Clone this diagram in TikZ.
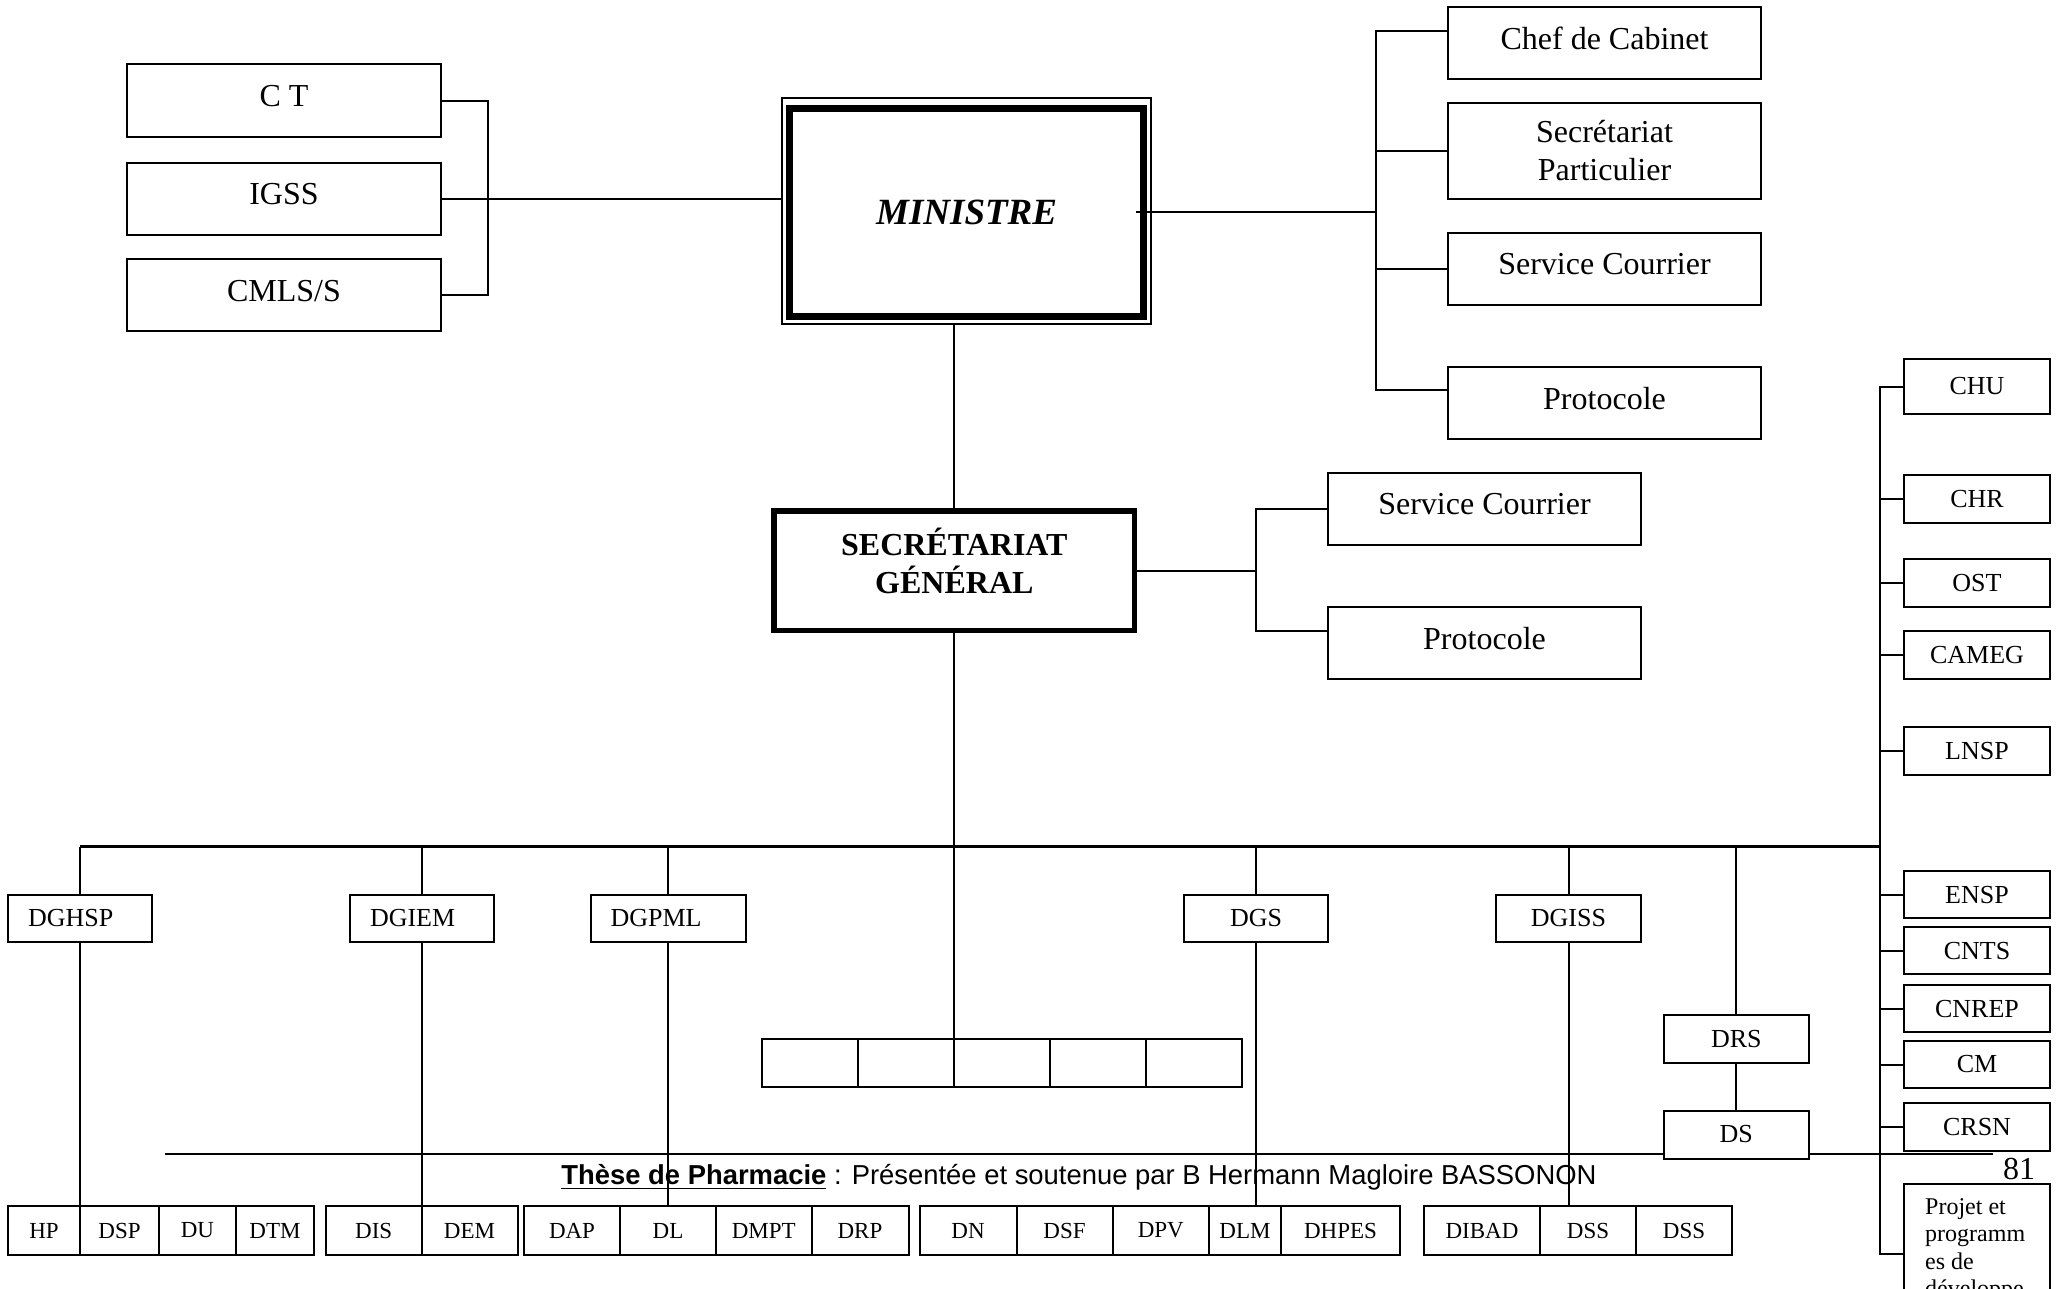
\documentclass[tikz,border=0pt]{standalone}
\usepackage{graphicx}
\usepackage{fontspec}
\setmainfont{Liberation Serif}
\newfontfamily\footfont{Liberation Sans}
\newcommand\bigfnt{\fontsize{32}{38}\selectfont}
\begin{document}
\begin{tikzpicture}[x=1pt,y=-1pt,
  box/.style={draw, line width=2pt, fill=white, inner sep=0pt, text=black},
  bigbox/.style={box, font=\bigfnt, text depth=9pt, align=center},
  smallbox/.style={box, font=\fontsize{26}{30}\selectfont},
  leftbox/.style={box, font=\fontsize{26}{30}\selectfont, align=left, inner xsep=20pt},
  cellbox/.style={box, font=\fontsize{23}{27}\selectfont, minimum height=49pt},
  emptycell/.style={box, minimum width=96pt, minimum height=48pt},
  link/.style={draw, line width=2pt},
  busline/.style={draw, line width=2.4pt},
]
\useasboundingbox (0,0) rectangle (2058,1288);
\clip (0,0) rectangle (2058,1288);

% helper coordinates
\coordinate (lbr) at (488,0);
\coordinate (rbr) at (1376,0);
\coordinate (sbr) at (1256,0);
\coordinate (busL) at (80,846.6);
\coordinate (busR) at (1880,846.6);
\coordinate (fl) at (165,1154);
\coordinate (fr) at (1993,1154);

% footer line and text
\draw[busline] (fl) -- (fr);
\node[font=\footfont, inner sep=0pt] (foot) at (1079,1177)
  {\resizebox{1035pt}{!}{\underline{\textbf{Thèse de Pharmacie}} : Présentée et soutenue par B Hermann Magloire BASSONON}};
\node[font=\fontsize{32}{36}\selectfont, inner sep=0pt] (pnum) at (2019,1169) {81};

% left group
\node[bigbox, minimum width=314pt, minimum height=73pt] (ct) at (284,100.5) {C T};
\node[bigbox, minimum width=314pt, minimum height=72pt] (igss) at (284,198.5) {IGSS};
\node[bigbox, minimum width=314pt, minimum height=72pt] (cmls) at (284,295) {CMLS/S};

% ministre
\node[box, line width=2pt, minimum width=368.5pt, minimum height=226.3pt] (mino) at (966.25,210.85) {};
\node[box, line width=7pt, minimum width=354pt, minimum height=208pt,
      font=\bfseries\itshape\fontsize{37}{44}\selectfont] (mini) at (966.6,212) {MINISTRE};

% right group
\node[bigbox, minimum width=313pt, minimum height=72pt] (chef) at (1604.5,43) {Chef de Cabinet};
\node[box, font=\bigfnt, align=center, minimum width=313pt, minimum height=96pt] (secp) at (1604.5,151) {Secrétariat\\Particulier};
\node[bigbox, minimum width=313pt, minimum height=72pt] (sc1) at (1604.5,268.5) {Service Courrier};
\node[bigbox, minimum width=313pt, minimum height=72pt] (prot1) at (1604.5,402.5) {Protocole};
\coordinate (chefc) at ([yshift=12.3pt]chef.west);
\coordinate (prot1c) at ([yshift=12.5pt]prot1.west);

% secretariat general
\node[box, line width=5.5pt, minimum width=360.7pt, minimum height=119.3pt,
      label={[font=\bfseries\bigfnt, align=center, yshift=9.6pt]center:SECRÉTARIAT\\GÉNÉRAL}] (sg) at (954.35,570.65) {};
\node[bigbox, minimum width=313pt, minimum height=72pt] (sc2) at (1484.5,508.5) {Service Courrier};
\node[bigbox, minimum width=313pt, minimum height=72pt] (prot2) at (1484.5,643) {Protocole};
\coordinate (prot2c) at ([yshift=12pt]prot2.west);

% directions generales
\node[leftbox, text width=104pt, minimum height=47pt] (dghsp) at (80,918.5) {DGHSP};
\node[leftbox, text width=103.5pt, minimum height=47pt] (dgiem) at (421.75,918.5) {DGIEM};
\node[leftbox, text width=115pt, minimum height=47pt] (dgpml) at (668,918.5) {DGPML};
\node[smallbox, minimum width=144pt, minimum height=47pt] (dgs) at (1256,918.5) {DGS};
\node[smallbox, minimum width=145pt, minimum height=47pt] (dgiss) at (1568.5,918.5) {DGISS};
\node[smallbox, minimum width=144.6pt, minimum height=48pt] (drs) at (1736.3,1039) {DRS};
\node[smallbox, minimum width=144.6pt, minimum height=48pt] (ds) at (1736.3,1134.5) {DS};

% empty row
\node[emptycell] (e1) at (810.2,1063) {};
\node[emptycell] (e2) at (906.3,1063) {};
\node[emptycell] (e3) at (1002.3,1063) {};
\node[emptycell] (e4) at (1098.3,1063) {};
\node[emptycell] (e5) at (1194.4,1063) {};

% right column
\node[smallbox, minimum width=146pt, minimum height=55pt] (chu) at (1977,386.5) {CHU};
\node[smallbox, minimum width=146pt, minimum height=48pt] (chr) at (1977,499) {CHR};
\node[smallbox, minimum width=146pt, minimum height=48pt] (ost) at (1977,583) {OST};
\node[smallbox, minimum width=146pt, minimum height=48pt] (cameg) at (1977,655) {CAMEG};
\node[smallbox, minimum width=146pt, minimum height=48pt] (lnsp) at (1977,751) {LNSP};
\node[smallbox, minimum width=146pt, minimum height=47pt] (ensp) at (1977,894.7) {ENSP};
\node[smallbox, minimum width=146pt, minimum height=47pt] (cnts) at (1977,950.7) {CNTS};
\node[smallbox, minimum width=146pt, minimum height=47pt] (cnrep) at (1977,1008.7) {CNREP};
\node[smallbox, minimum width=146pt, minimum height=47pt] (cm) at (1977,1064.5) {CM};
\node[smallbox, minimum width=146pt, minimum height=48pt] (crsn) at (1977,1126.7) {CRSN};
\node[box, minimum width=146pt, minimum height=217pt, anchor=north] (projet) at (1977,1183.3) {};
\node[font=\fontsize{24}{27.5}\selectfont, align=left, anchor=north west, inner sep=0pt] (projtxt) at (1925,1198) {Projet et\\programm\\es de\\développe};
\coordinate (pjc) at (projet.north west |- 0,1254);

% bottom row
\node[cellbox, minimum width=72pt] (hp) at (44,1230.5) {HP};
\node[cellbox, minimum width=79pt] (dsp) at (119.5,1230.5) {DSP};
\node[cellbox, minimum width=77pt] (du) at (197.5,1230.5) {DU};
\node[cellbox, minimum width=78pt] (dtm) at (275,1230.5) {DTM};
\node[cellbox, minimum width=95.5pt] (dis) at (373.75,1230.5) {DIS};
\node[cellbox, minimum width=96pt] (dem) at (469.5,1230.5) {DEM};
\node[cellbox, minimum width=96pt] (dap) at (572,1230.5) {DAP};
\node[cellbox, minimum width=96pt] (dl) at (668,1230.5) {DL};
\node[cellbox, minimum width=95.5pt] (dmpt) at (763.75,1230.5) {DMPT};
\node[cellbox, minimum width=97pt] (drp) at (860,1230.5) {DRP};
\node[cellbox, minimum width=97pt] (dn) at (968,1230.5) {DN};
\node[cellbox, minimum width=96pt] (dsf) at (1064.5,1230.5) {DSF};
\node[cellbox, minimum width=96.5pt] (dpv) at (1160.75,1230.5) {DPV};
\node[cellbox, minimum width=72pt] (dlm) at (1245,1230.5) {DLM};
\node[cellbox, minimum width=119pt] (dhpes) at (1340.5,1230.5) {DHPES};
\node[cellbox, minimum width=116pt] (dibad) at (1482,1230.5) {DIBAD};
\node[cellbox, minimum width=96pt] (dssa) at (1588,1230.5) {DSS};
\node[cellbox, minimum width=96pt] (dssb) at (1684,1230.5) {DSS};

% connectors
\draw[link] (ct.east) -| (lbr |- cmls.east) -- (cmls.east);
\draw[link] (igss.east) -- (igss.east -| mino.west);
\draw[link] (chefc) -| (rbr |- prot1c) -- (prot1c);
\draw[link] (secp.west) -- (secp.west -| rbr);
\draw[link] (sc1.west) -- (sc1.west -| rbr);
\draw[link] ([xshift=-11pt]mini.east) -- (mini.east -| rbr);
\draw[link] (mino.south -| sg.north) -- (sg.north);
\draw[link] (sg.east) -- (sg.east -| sbr);
\draw[link] (sc2.west) -| (sbr |- prot2c) -- (prot2c);
\draw[busline] (busL) -- (busR);
\draw[link] (sg.south) -- (sg.south |- e3.north);
\foreach \n in {dghsp,dgiem,dgpml,dgs,dgiss,drs}
  \draw[link] (\n.north) -- (\n.north |- busL);
\draw[link] (dghsp.south) -- (dghsp.south |- hp.north);
\draw[link] (dgiem.south) -- (dgiem.south |- dis.north);
\draw[link] (dgpml.south) -- (dgpml.south |- dl.north);
\draw[link] (dgs.south) -- (dgs.south |- dlm.north);
\draw[link] (dgiss.south) -- (dgiss.south |- dssa.north);
\draw[link] (drs.south) -- (ds.north);
\draw[link] (chu.west) -| (busR |- pjc) -- (pjc);
\foreach \n in {chr,ost,cameg,lnsp,ensp,cnts,cnrep,cm,crsn}
  \draw[link] (\n.west) -- (\n.west -| busR);
\end{tikzpicture}
\end{document}
